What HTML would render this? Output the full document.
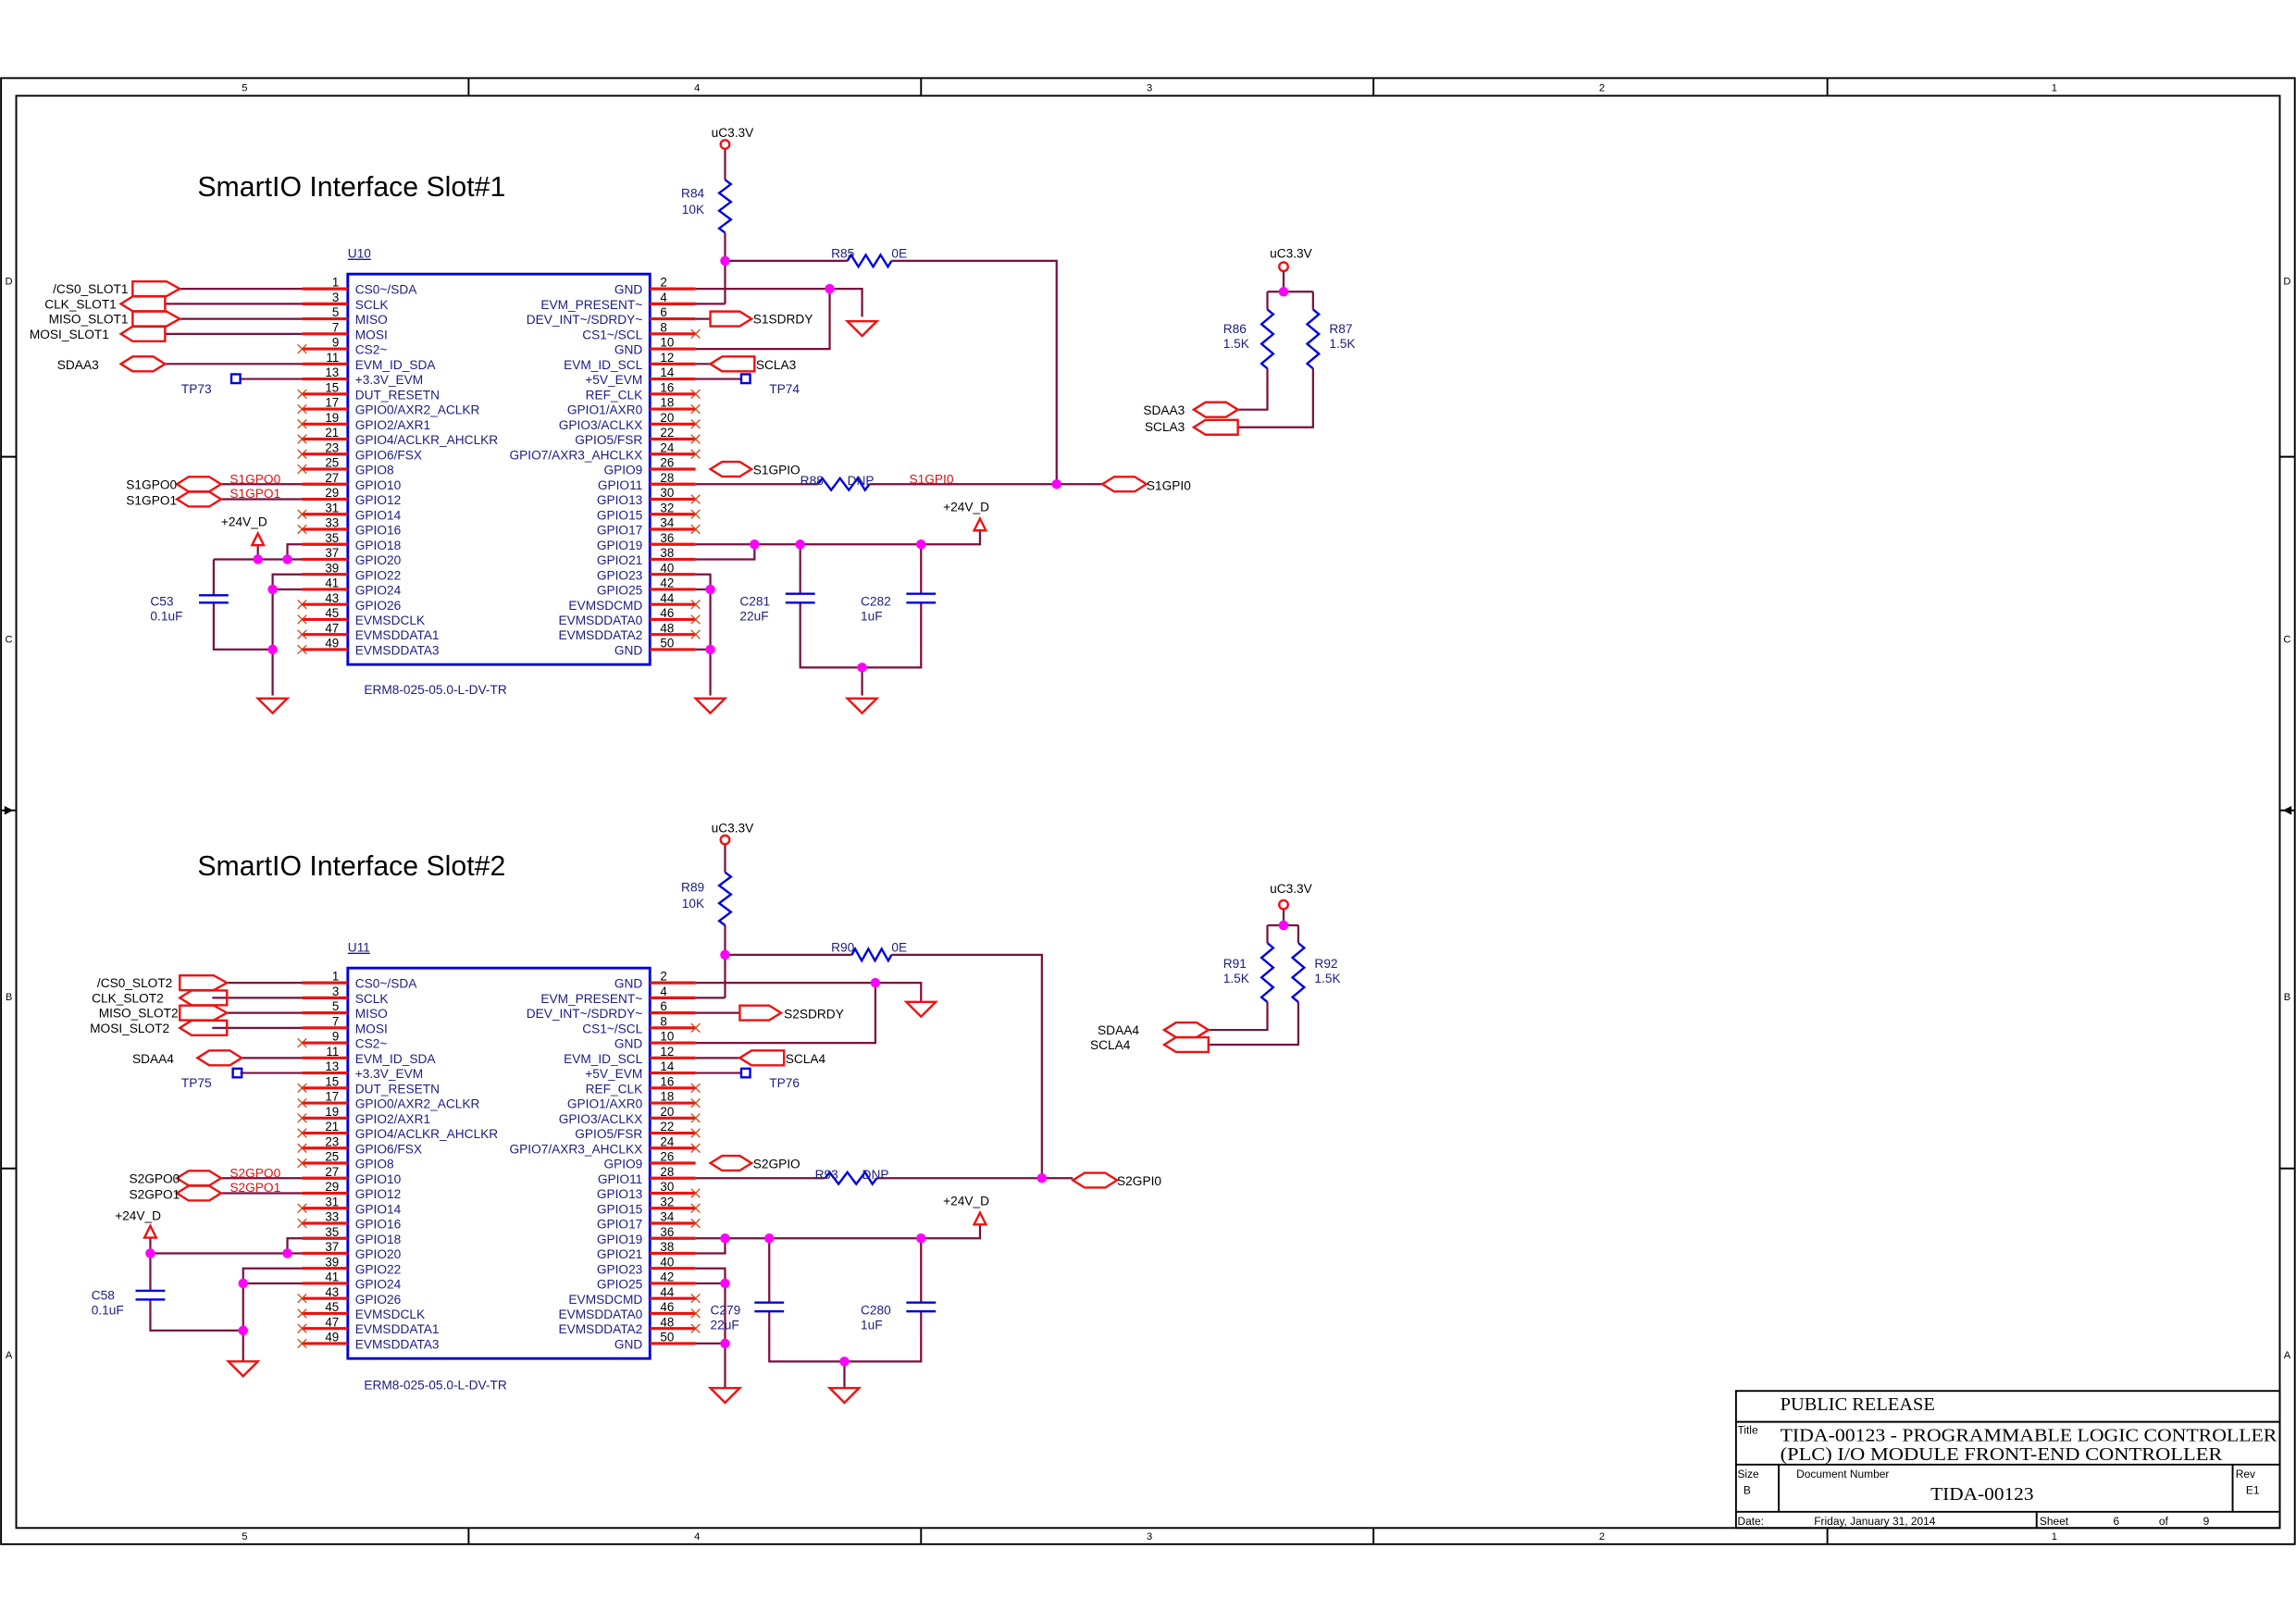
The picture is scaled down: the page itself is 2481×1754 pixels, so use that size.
<!DOCTYPE html>
<html><head><meta charset="utf-8"><style>
html,body{margin:0;padding:0;background:#fff}
svg{display:block}
.n{font:8.6px "Liberation Sans",sans-serif;fill:#1c1c80}
.p{font:8.4px "Liberation Sans",sans-serif;fill:#000}
.l{font:8.6px "Liberation Sans",sans-serif;fill:#000}
.b{font:8.6px "Liberation Sans",sans-serif;fill:#1c1c80}
.r{font:8.6px "Liberation Sans",sans-serif;fill:#e01010}
.w{fill:none;stroke:#7a0f3f;stroke-width:1.4}
.pin{fill:none;stroke:#ee1111;stroke-width:2}
.x{fill:none;stroke:#d04010;stroke-width:0.8}
.res{fill:none;stroke:#0000dd;stroke-width:1.5}
.prt{fill:none;stroke:#ee1111;stroke-width:1.5}
.j{fill:#ff00ff}
.fr{fill:none;stroke:#000;stroke-width:1.2}
.t{font:9px "Liberation Sans",sans-serif;fill:#000}
.s{font:12.5px "Liberation Serif",serif;fill:#000}
</style></head><body>
<svg width="2481" height="1754" viewBox="0 0 1558 1101.5" preserveAspectRatio="none" xmlns="http://www.w3.org/2000/svg">
<rect width="1558" height="1101.5" fill="#fff"/>
<!-- frame -->
<rect class="fr" x="0.7" y="53" width="1556.5" height="995"/>
<rect class="fr" x="11" y="65" width="1536" height="972"/>
<path class="fr" d="M318 53V65M625 53V65M932 53V65M1240 53V65M318 1037V1048M625 1037V1048M932 1037V1048M1240 1037V1048M1 310H11M1 793H11M1547 310H1557M1547 793H1557M1 550H11M1547 550H1557"/>
<path d="M3 547l6 3l-6 3z M1555 547l-6 3l6 3z" fill="#000"/>
<g class="t" style="font-size:7px" text-anchor="middle">
<text x="166" y="62">5</text><text x="473" y="62">4</text><text x="780" y="62">3</text><text x="1087" y="62">2</text><text x="1394" y="62">1</text>
<text x="166" y="1045">5</text><text x="473" y="1045">4</text><text x="780" y="1045">3</text><text x="1087" y="1045">2</text><text x="1394" y="1045">1</text>
<text x="6" y="193">D</text><text x="6" y="436">C</text><text x="6" y="679">B</text><text x="6" y="922">A</text>
<text x="1552" y="193">D</text><text x="1552" y="436">C</text><text x="1552" y="679">B</text><text x="1552" y="922">A</text>
</g>

<!-- titles -->
<text x="134" y="133" style="font:19px 'Liberation Sans',sans-serif">SmartIO Interface Slot#1</text>
<text x="134" y="594" style="font:19px 'Liberation Sans',sans-serif">SmartIO Interface Slot#2</text>

<!-- ===== SLOT 1 BODY ===== -->
<g>
<text class="b" x="236" y="175" text-decoration="underline">U10</text>
<rect x="236" y="186" width="205" height="265" fill="none" stroke="#0000dd" stroke-width="1.8"/>
<path class="pin" d="M205 196h31M205 206.2h31M205 216.4h31M205 226.6h31M205 236.8h31M205 247h31M205 257.2h31M205 267.4h31M205 277.6h31M205 287.8h31M205 298h31M205 308.2h31M205 318.4h31M205 328.6h31M205 338.8h31M205 349h31M205 359.2h31M205 369.4h31M205 379.6h31M205 389.8h31M205 400h31M205 410.2h31M205 420.4h31M205 430.6h31M205 440.8h31
M441 196h31M441 206.2h31M441 216.4h31M441 226.6h31M441 236.8h31M441 247h31M441 257.2h31M441 267.4h31M441 277.6h31M441 287.8h31M441 298h31M441 308.2h31M441 318.4h31M441 328.6h31M441 338.8h31M441 349h31M441 359.2h31M441 369.4h31M441 379.6h31M441 389.8h31M441 400h31M441 410.2h31M441 420.4h31M441 430.6h31M441 440.8h31"/>
<path class="x" d="M202 233.8l6 6m0-6l-6 6M202 264.4l6 6m0-6l-6 6M202 274.6l6 6m0-6l-6 6M202 284.8l6 6m0-6l-6 6M202 295l6 6m0-6l-6 6M202 305.2l6 6m0-6l-6 6M202 315.4l6 6m0-6l-6 6M202 346l6 6m0-6l-6 6M202 356.2l6 6m0-6l-6 6M202 407.2l6 6m0-6l-6 6M202 417.4l6 6m0-6l-6 6M202 427.6l6 6m0-6l-6 6M202 437.8l6 6m0-6l-6 6
M469 223.6l6 6m0-6l-6 6M469 264.4l6 6m0-6l-6 6M469 274.6l6 6m0-6l-6 6M469 284.8l6 6m0-6l-6 6M469 295l6 6m0-6l-6 6M469 305.2l6 6m0-6l-6 6M469 335.8l6 6m0-6l-6 6M469 346l6 6m0-6l-6 6M469 356.2l6 6m0-6l-6 6M469 407.2l6 6m0-6l-6 6M469 417.4l6 6m0-6l-6 6M469 427.6l6 6m0-6l-6 6"/>
<text class="n"><tspan x="241" y="199.5">CS0~/SDA</tspan><tspan x="241" y="209.7">SCLK</tspan><tspan x="241" y="219.9">MISO</tspan><tspan x="241" y="230.1">MOSI</tspan><tspan x="241" y="240.3">CS2~</tspan><tspan x="241" y="250.5">EVM_ID_SDA</tspan><tspan x="241" y="260.7">+3.3V_EVM</tspan><tspan x="241" y="270.9">DUT_RESETN</tspan><tspan x="241" y="281.1">GPIO0/AXR2_ACLKR</tspan><tspan x="241" y="291.3">GPIO2/AXR1</tspan><tspan x="241" y="301.5">GPIO4/ACLKR_AHCLKR</tspan><tspan x="241" y="311.7">GPIO6/FSX</tspan><tspan x="241" y="321.9">GPIO8</tspan><tspan x="241" y="332.1">GPIO10</tspan><tspan x="241" y="342.3">GPIO12</tspan><tspan x="241" y="352.5">GPIO14</tspan><tspan x="241" y="362.7">GPIO16</tspan><tspan x="241" y="372.9">GPIO18</tspan><tspan x="241" y="383.1">GPIO20</tspan><tspan x="241" y="393.3">GPIO22</tspan><tspan x="241" y="403.5">GPIO24</tspan><tspan x="241" y="413.7">GPIO26</tspan><tspan x="241" y="423.9">EVMSDCLK</tspan><tspan x="241" y="434.1">EVMSDDATA1</tspan><tspan x="241" y="444.3">EVMSDDATA3</tspan></text>
<text class="n" text-anchor="end"><tspan x="436" y="199.5">GND</tspan><tspan x="436" y="209.7">EVM_PRESENT~</tspan><tspan x="436" y="219.9">DEV_INT~/SDRDY~</tspan><tspan x="436" y="230.1">CS1~/SCL</tspan><tspan x="436" y="240.3">GND</tspan><tspan x="436" y="250.5">EVM_ID_SCL</tspan><tspan x="436" y="260.7">+5V_EVM</tspan><tspan x="436" y="270.9">REF_CLK</tspan><tspan x="436" y="281.1">GPIO1/AXR0</tspan><tspan x="436" y="291.3">GPIO3/ACLKX</tspan><tspan x="436" y="301.5">GPIO5/FSR</tspan><tspan x="436" y="311.7">GPIO7/AXR3_AHCLKX</tspan><tspan x="436" y="321.9">GPIO9</tspan><tspan x="436" y="332.1">GPIO11</tspan><tspan x="436" y="342.3">GPIO13</tspan><tspan x="436" y="352.5">GPIO15</tspan><tspan x="436" y="362.7">GPIO17</tspan><tspan x="436" y="372.9">GPIO19</tspan><tspan x="436" y="383.1">GPIO21</tspan><tspan x="436" y="393.3">GPIO23</tspan><tspan x="436" y="403.5">GPIO25</tspan><tspan x="436" y="413.7">EVMSDCMD</tspan><tspan x="436" y="423.9">EVMSDDATA0</tspan><tspan x="436" y="434.1">EVMSDDATA2</tspan><tspan x="436" y="444.3">GND</tspan></text>
<text class="p" text-anchor="end"><tspan x="230" y="194.5">1</tspan><tspan x="230" y="204.7">3</tspan><tspan x="230" y="214.9">5</tspan><tspan x="230" y="225.1">7</tspan><tspan x="230" y="235.3">9</tspan><tspan x="230" y="245.5">11</tspan><tspan x="230" y="255.7">13</tspan><tspan x="230" y="265.9">15</tspan><tspan x="230" y="276.1">17</tspan><tspan x="230" y="286.3">19</tspan><tspan x="230" y="296.5">21</tspan><tspan x="230" y="306.7">23</tspan><tspan x="230" y="316.9">25</tspan><tspan x="230" y="327.1">27</tspan><tspan x="230" y="337.3">29</tspan><tspan x="230" y="347.5">31</tspan><tspan x="230" y="357.7">33</tspan><tspan x="230" y="367.9">35</tspan><tspan x="230" y="378.1">37</tspan><tspan x="230" y="388.3">39</tspan><tspan x="230" y="398.5">41</tspan><tspan x="230" y="408.7">43</tspan><tspan x="230" y="418.9">45</tspan><tspan x="230" y="429.1">47</tspan><tspan x="230" y="439.3">49</tspan></text>
<text class="p"><tspan x="448" y="194.5">2</tspan><tspan x="448" y="204.7">4</tspan><tspan x="448" y="214.9">6</tspan><tspan x="448" y="225.1">8</tspan><tspan x="448" y="235.3">10</tspan><tspan x="448" y="245.5">12</tspan><tspan x="448" y="255.7">14</tspan><tspan x="448" y="265.9">16</tspan><tspan x="448" y="276.1">18</tspan><tspan x="448" y="286.3">20</tspan><tspan x="448" y="296.5">22</tspan><tspan x="448" y="306.7">24</tspan><tspan x="448" y="316.9">26</tspan><tspan x="448" y="327.1">28</tspan><tspan x="448" y="337.3">30</tspan><tspan x="448" y="347.5">32</tspan><tspan x="448" y="357.7">34</tspan><tspan x="448" y="367.9">36</tspan><tspan x="448" y="378.1">38</tspan><tspan x="448" y="388.3">40</tspan><tspan x="448" y="398.5">42</tspan><tspan x="448" y="408.7">44</tspan><tspan x="448" y="418.9">46</tspan><tspan x="448" y="429.1">48</tspan><tspan x="448" y="439.3">50</tspan></text>
<text class="b" x="247" y="471">ERM8-025-05.0-L-DV-TR</text>
</g>

<!-- ===== SLOT 2 BODY ===== -->
<g transform="translate(0,471)">
<text class="b" x="236" y="175" text-decoration="underline">U11</text>
<rect x="236" y="186" width="205" height="265" fill="none" stroke="#0000dd" stroke-width="1.8"/>
<path class="pin" d="M205 196h31M205 206.2h31M205 216.4h31M205 226.6h31M205 236.8h31M205 247h31M205 257.2h31M205 267.4h31M205 277.6h31M205 287.8h31M205 298h31M205 308.2h31M205 318.4h31M205 328.6h31M205 338.8h31M205 349h31M205 359.2h31M205 369.4h31M205 379.6h31M205 389.8h31M205 400h31M205 410.2h31M205 420.4h31M205 430.6h31M205 440.8h31
M441 196h31M441 206.2h31M441 216.4h31M441 226.6h31M441 236.8h31M441 247h31M441 257.2h31M441 267.4h31M441 277.6h31M441 287.8h31M441 298h31M441 308.2h31M441 318.4h31M441 328.6h31M441 338.8h31M441 349h31M441 359.2h31M441 369.4h31M441 379.6h31M441 389.8h31M441 400h31M441 410.2h31M441 420.4h31M441 430.6h31M441 440.8h31"/>
<path class="x" d="M202 233.8l6 6m0-6l-6 6M202 264.4l6 6m0-6l-6 6M202 274.6l6 6m0-6l-6 6M202 284.8l6 6m0-6l-6 6M202 295l6 6m0-6l-6 6M202 305.2l6 6m0-6l-6 6M202 315.4l6 6m0-6l-6 6M202 346l6 6m0-6l-6 6M202 356.2l6 6m0-6l-6 6M202 407.2l6 6m0-6l-6 6M202 417.4l6 6m0-6l-6 6M202 427.6l6 6m0-6l-6 6M202 437.8l6 6m0-6l-6 6
M469 223.6l6 6m0-6l-6 6M469 264.4l6 6m0-6l-6 6M469 274.6l6 6m0-6l-6 6M469 284.8l6 6m0-6l-6 6M469 295l6 6m0-6l-6 6M469 305.2l6 6m0-6l-6 6M469 335.8l6 6m0-6l-6 6M469 346l6 6m0-6l-6 6M469 356.2l6 6m0-6l-6 6M469 407.2l6 6m0-6l-6 6M469 417.4l6 6m0-6l-6 6M469 427.6l6 6m0-6l-6 6"/>
<text class="n"><tspan x="241" y="199.5">CS0~/SDA</tspan><tspan x="241" y="209.7">SCLK</tspan><tspan x="241" y="219.9">MISO</tspan><tspan x="241" y="230.1">MOSI</tspan><tspan x="241" y="240.3">CS2~</tspan><tspan x="241" y="250.5">EVM_ID_SDA</tspan><tspan x="241" y="260.7">+3.3V_EVM</tspan><tspan x="241" y="270.9">DUT_RESETN</tspan><tspan x="241" y="281.1">GPIO0/AXR2_ACLKR</tspan><tspan x="241" y="291.3">GPIO2/AXR1</tspan><tspan x="241" y="301.5">GPIO4/ACLKR_AHCLKR</tspan><tspan x="241" y="311.7">GPIO6/FSX</tspan><tspan x="241" y="321.9">GPIO8</tspan><tspan x="241" y="332.1">GPIO10</tspan><tspan x="241" y="342.3">GPIO12</tspan><tspan x="241" y="352.5">GPIO14</tspan><tspan x="241" y="362.7">GPIO16</tspan><tspan x="241" y="372.9">GPIO18</tspan><tspan x="241" y="383.1">GPIO20</tspan><tspan x="241" y="393.3">GPIO22</tspan><tspan x="241" y="403.5">GPIO24</tspan><tspan x="241" y="413.7">GPIO26</tspan><tspan x="241" y="423.9">EVMSDCLK</tspan><tspan x="241" y="434.1">EVMSDDATA1</tspan><tspan x="241" y="444.3">EVMSDDATA3</tspan></text>
<text class="n" text-anchor="end"><tspan x="436" y="199.5">GND</tspan><tspan x="436" y="209.7">EVM_PRESENT~</tspan><tspan x="436" y="219.9">DEV_INT~/SDRDY~</tspan><tspan x="436" y="230.1">CS1~/SCL</tspan><tspan x="436" y="240.3">GND</tspan><tspan x="436" y="250.5">EVM_ID_SCL</tspan><tspan x="436" y="260.7">+5V_EVM</tspan><tspan x="436" y="270.9">REF_CLK</tspan><tspan x="436" y="281.1">GPIO1/AXR0</tspan><tspan x="436" y="291.3">GPIO3/ACLKX</tspan><tspan x="436" y="301.5">GPIO5/FSR</tspan><tspan x="436" y="311.7">GPIO7/AXR3_AHCLKX</tspan><tspan x="436" y="321.9">GPIO9</tspan><tspan x="436" y="332.1">GPIO11</tspan><tspan x="436" y="342.3">GPIO13</tspan><tspan x="436" y="352.5">GPIO15</tspan><tspan x="436" y="362.7">GPIO17</tspan><tspan x="436" y="372.9">GPIO19</tspan><tspan x="436" y="383.1">GPIO21</tspan><tspan x="436" y="393.3">GPIO23</tspan><tspan x="436" y="403.5">GPIO25</tspan><tspan x="436" y="413.7">EVMSDCMD</tspan><tspan x="436" y="423.9">EVMSDDATA0</tspan><tspan x="436" y="434.1">EVMSDDATA2</tspan><tspan x="436" y="444.3">GND</tspan></text>
<text class="p" text-anchor="end"><tspan x="230" y="194.5">1</tspan><tspan x="230" y="204.7">3</tspan><tspan x="230" y="214.9">5</tspan><tspan x="230" y="225.1">7</tspan><tspan x="230" y="235.3">9</tspan><tspan x="230" y="245.5">11</tspan><tspan x="230" y="255.7">13</tspan><tspan x="230" y="265.9">15</tspan><tspan x="230" y="276.1">17</tspan><tspan x="230" y="286.3">19</tspan><tspan x="230" y="296.5">21</tspan><tspan x="230" y="306.7">23</tspan><tspan x="230" y="316.9">25</tspan><tspan x="230" y="327.1">27</tspan><tspan x="230" y="337.3">29</tspan><tspan x="230" y="347.5">31</tspan><tspan x="230" y="357.7">33</tspan><tspan x="230" y="367.9">35</tspan><tspan x="230" y="378.1">37</tspan><tspan x="230" y="388.3">39</tspan><tspan x="230" y="398.5">41</tspan><tspan x="230" y="408.7">43</tspan><tspan x="230" y="418.9">45</tspan><tspan x="230" y="429.1">47</tspan><tspan x="230" y="439.3">49</tspan></text>
<text class="p"><tspan x="448" y="194.5">2</tspan><tspan x="448" y="204.7">4</tspan><tspan x="448" y="214.9">6</tspan><tspan x="448" y="225.1">8</tspan><tspan x="448" y="235.3">10</tspan><tspan x="448" y="245.5">12</tspan><tspan x="448" y="255.7">14</tspan><tspan x="448" y="265.9">16</tspan><tspan x="448" y="276.1">18</tspan><tspan x="448" y="286.3">20</tspan><tspan x="448" y="296.5">22</tspan><tspan x="448" y="306.7">24</tspan><tspan x="448" y="316.9">26</tspan><tspan x="448" y="327.1">28</tspan><tspan x="448" y="337.3">30</tspan><tspan x="448" y="347.5">32</tspan><tspan x="448" y="357.7">34</tspan><tspan x="448" y="367.9">36</tspan><tspan x="448" y="378.1">38</tspan><tspan x="448" y="388.3">40</tspan><tspan x="448" y="398.5">42</tspan><tspan x="448" y="408.7">44</tspan><tspan x="448" y="418.9">46</tspan><tspan x="448" y="429.1">48</tspan><tspan x="448" y="439.3">50</tspan></text>
<text class="b" x="247" y="472">ERM8-025-05.0-L-DV-TR</text>
</g>

<!-- ===== SLOT 1 WIRING ===== -->
<path class="w" d="M122 196H205M112 206.2H205M122 216.4H205M112 226.6H205M112 247H205M163 257.2H205M150 328.6H205M150 338.8H205
M175 370V379.6M195 379.6V369.4H205M145 379.6H205M145 379.6V404M145 409V440.8H185M205 389.8H185V472M185 400H205
M472 206.2H492M492 101V122M492 158V206.2M492 177H575M605 177H717V328.6M472 196H585V215M563 196V236.8H472
M472 216.4H482M472 247H482M472 257.2H503M472 328.6H555M590 328.6H748
M472 369.4H665V360M472 379.6H512V369.4M543 369.4V403M543 409V453H625V409M625 369.4V403M585 453V472
M472 389.8H482V472M472 400H482M472 440.8H482
M871 184V198M860 198H891M860 198V210M860 250V278H840M891 198V210M891 250V290H840"/>
<path class="res" d="M492 122l4 3l-8 6l8 6l-8 6l8 6l-8 6l4 3M575 177l2.5 -4l5 8l5 -8l5 8l5 -8l5 8l2.5 -4M555 328.6l3 -4l6 8l6 -8l6 8l6 -8l5 8l3 -4
M860 210l4 3.3l-8 6.7l8 6.7l-8 6.7l8 6.7l-8 6.7l4 3.3M891 210l4 3.3l-8 6.7l8 6.7l-8 6.7l8 6.7l-8 6.7l4 3.3
M135 404h20M135 409h20M533 403h20M533 409h20M615 403h20M615 409h20"/>
<path class="res" d="M157 254h6v6h-6zM503 254h6v6h-6z" stroke-width="1.3"/>
<g class="prt">
<path d="M90 191H113L122 196L113 201H90Z"/>
<path d="M82 206.2L90 201.2H112V211.2H90Z"/>
<path d="M90 211.4H113L122 216.4L113 221.4H90Z"/>
<path d="M82 226.6L90 221.6H112V231.6H90Z"/>
<path d="M82 247L90 242H104L112 247L104 252H90Z"/>
<path d="M120 328.6L128 323.6H142L150 328.6L142 333.6H128Z"/>
<path d="M120 338.8L128 333.8H142L150 338.8L142 343.8H128Z"/>
<path d="M482 211.4H502L510 216.4L502 221.4H482Z"/>
<path d="M482 247L490 242H512V252H490Z"/>
<path d="M482 318.4L490 313.4H502L510 318.4L502 323.4H490Z"/>
<path d="M748 328.6L756 323.6H770L778 328.6L770 333.6H756Z"/>
<path d="M810 278L818 273H832L840 278L832 283H818Z"/>
<path d="M810 290L818 285H840V295H818Z"/>
<path d="M171 370L175 362L179 370Z M661 360L665 352L669 360Z"/>
<path d="M175 474H195L185 484Z M575 474H595L585 484Z M472 474H492L482 484Z M575 218H595L585 228Z"/>
<circle cx="492" cy="98" r="3"/><circle cx="871" cy="181" r="3"/>
</g>
<g class="j">
<circle cx="175" cy="379.6" r="3.3"/><circle cx="195" cy="379.6" r="3.3"/><circle cx="185" cy="400" r="3.3"/><circle cx="185" cy="440.8" r="3.3"/>
<circle cx="492" cy="177" r="3.3"/><circle cx="563" cy="196" r="3.3"/><circle cx="717" cy="328.6" r="3.3"/>
<circle cx="512" cy="369.4" r="3.3"/><circle cx="543" cy="369.4" r="3.3"/><circle cx="625" cy="369.4" r="3.3"/><circle cx="585" cy="453" r="3.3"/>
<circle cx="482" cy="400" r="3.3"/><circle cx="482" cy="440.8" r="3.3"/><circle cx="871" cy="198" r="3.3"/>
</g>
<g class="l">
<text x="87" y="199" text-anchor="end">/CS0_SLOT1</text>
<text x="79" y="209.5" text-anchor="end">CLK_SLOT1</text>
<text x="87" y="219.5" text-anchor="end">MISO_SLOT1</text>
<text x="74" y="230" text-anchor="end">MOSI_SLOT1</text>
<text x="67" y="250.5" text-anchor="end">SDAA3</text>
<text x="120" y="332" text-anchor="end">S1GPO0</text>
<text x="120" y="342.5" text-anchor="end">S1GPO1</text>
<text x="150" y="357">+24V_D</text>
<text x="497" y="93" text-anchor="middle">uC3.3V</text>
<text x="511" y="219.5">S1SDRDY</text>
<text x="513" y="250.5">SCLA3</text>
<text x="511" y="322">S1GPIO</text>
<text x="778" y="332.5">S1GPI0</text>
<text x="640" y="347">+24V_D</text>
<text x="876" y="175" text-anchor="middle">uC3.3V</text>
<text x="804" y="281.5" text-anchor="end">SDAA3</text>
<text x="804" y="292.5" text-anchor="end">SCLA3</text>
</g>
<g class="b">
<text x="123" y="267">TP73</text><text x="522" y="267">TP74</text>
<text x="478" y="134" text-anchor="end">R84</text><text x="478" y="145" text-anchor="end">10K</text>
<text x="564" y="175">R85</text><text x="605" y="175">0E</text>
<text x="543" y="329">R88</text><text x="575" y="329">DNP</text>
<text x="102" y="411">C53</text><text x="102" y="421">0.1uF</text>
<text x="502" y="411">C281</text><text x="502" y="421">22uF</text>
<text x="584" y="411">C282</text><text x="584" y="421">1uF</text>
<text x="830" y="226">R86</text><text x="830" y="236">1.5K</text>
<text x="902" y="226">R87</text><text x="902" y="236">1.5K</text>
</g>
<g class="r"><text x="156" y="328">S1GPO0</text><text x="156" y="338">S1GPO1</text><text x="617" y="328">S1GPI0</text></g>

<!-- ===== SLOT 2 WIRING ===== -->
<path class="w" d="M154 667H205M144 677.2H205M154 687.4H205M144 697.6H205M164 718H205M163 728.2H205M150 799.6H205M150 809.8H205
M102 840V850.6H205M195 850.6V840.4H205M102 850.6V876M102 882V903H165M205 860.8H165V924M165 871H205
M472 677.2H492M492 573V592M492 628V677.2M492 648H578M605 648H707V799.6M472 667H625V680M594 667V707.8H472
M472 687.4H502M472 718H502M472 728.2H503M472 799.6H560M595 799.6H728
M472 840.4H665V831M472 850.6H492V840.4M522 840.4V884M522 890V924H625V890M625 840.4V884M573 924V942
M472 860.8H492V942M472 871H492M472 911.8H492
M871 617V628M860 628H881M860 628V640M860 680V699H820M881 628V640M881 680V709H820"/>
<path class="res" d="M492 592l4 3l-8 6l8 6l-8 6l8 6l-8 6l4 3M578 648l2.25 -4l4.5 8l4.5 -8l4.5 8l4.5 -8l4.5 8l2.25 -4M560 799.6l3 -4l6 8l6 -8l6 8l6 -8l5 8l3 -4
M860 640l4 3.3l-8 6.7l8 6.7l-8 6.7l8 6.7l-8 6.7l4 3.3M881 640l4 3.3l-8 6.7l8 6.7l-8 6.7l8 6.7l-8 6.7l4 3.3
M92 876h20M92 882h20M512 884h20M512 890h20M615 884h20M615 890h20"/>
<path class="res" d="M158 725.2h6v6h-6zM503 725.2h6v6h-6z" stroke-width="1.3"/>
<g class="prt">
<path d="M122 662H145L154 667L145 672H122Z"/>
<path d="M122 677.2L130 672.2H154V682.2H130Z"/>
<path d="M122 682.4H145L154 687.4L145 692.4H122Z"/>
<path d="M122 697.6L130 692.6H154V702.6H130Z"/>
<path d="M134 718L142 713H156L164 718L156 723H142Z"/>
<path d="M120 799.6L128 794.6H142L150 799.6L142 804.6H128Z"/>
<path d="M120 809.8L128 804.8H142L150 809.8L142 814.8H128Z"/>
<path d="M502 682.4H522L530 687.4L522 692.4H502Z"/>
<path d="M502 718L510 713H532V723H510Z"/>
<path d="M482 789.4L490 784.4H502L510 789.4L502 794.4H490Z"/>
<path d="M728 801L736 796H750L758 801L750 806H736Z"/>
<path d="M790 699L798 694H812L820 699L812 704H798Z"/>
<path d="M790 709L798 704H820V714H798Z"/>
<path d="M98 840L102 832L106 840Z M661 831L665 823L669 831Z"/>
<path d="M155 924H175L165 934Z M563 942H583L573 952Z M482 942H502L492 952Z M615 680H635L625 690Z"/>
<circle cx="492" cy="570" r="3"/><circle cx="871" cy="614" r="3"/>
</g>
<g class="j">
<circle cx="102" cy="850.6" r="3.3"/><circle cx="195" cy="850.6" r="3.3"/><circle cx="165" cy="871" r="3.3"/><circle cx="165" cy="903" r="3.3"/>
<circle cx="492" cy="648" r="3.3"/><circle cx="594" cy="667" r="3.3"/><circle cx="707" cy="799.6" r="3.3"/>
<circle cx="492" cy="840.4" r="3.3"/><circle cx="522" cy="840.4" r="3.3"/><circle cx="625" cy="840.4" r="3.3"/><circle cx="573" cy="924" r="3.3"/>
<circle cx="492" cy="871" r="3.3"/><circle cx="492" cy="911.8" r="3.3"/><circle cx="871" cy="628" r="3.3"/>
</g>
<g class="l">
<text x="117" y="670" text-anchor="end">/CS0_SLOT2</text>
<text x="111" y="680.5" text-anchor="end">CLK_SLOT2</text>
<text x="121" y="690.5" text-anchor="end">MISO_SLOT2</text>
<text x="115" y="701" text-anchor="end">MOSI_SLOT2</text>
<text x="118" y="721.5" text-anchor="end">SDAA4</text>
<text x="122" y="803" text-anchor="end">S2GPO0</text>
<text x="122" y="813.5" text-anchor="end">S2GPO1</text>
<text x="78" y="828">+24V_D</text>
<text x="497" y="565" text-anchor="middle">uC3.3V</text>
<text x="532" y="691">S2SDRDY</text>
<text x="533" y="721.5">SCLA4</text>
<text x="511" y="793">S2GPIO</text>
<text x="758" y="804.5">S2GPI0</text>
<text x="640" y="818">+24V_D</text>
<text x="876" y="606" text-anchor="middle">uC3.3V</text>
<text x="773" y="702" text-anchor="end">SDAA4</text>
<text x="767" y="712" text-anchor="end">SCLA4</text>
</g>
<g class="b">
<text x="123" y="738">TP75</text><text x="522" y="738">TP76</text>
<text x="478" y="605" text-anchor="end">R89</text><text x="478" y="616" text-anchor="end">10K</text>
<text x="564" y="646">R90</text><text x="605" y="646">0E</text>
<text x="553" y="800">R93</text><text x="585" y="800">DNP</text>
<text x="62" y="882">C58</text><text x="62" y="892">0.1uF</text>
<text x="482" y="892">C279</text><text x="482" y="902">22uF</text>
<text x="584" y="892">C280</text><text x="584" y="902">1uF</text>
<text x="830" y="657">R91</text><text x="830" y="667">1.5K</text>
<text x="892" y="657">R92</text><text x="892" y="667">1.5K</text>
</g>
<g class="r"><text x="156" y="799">S2GPO0</text><text x="156" y="809">S2GPO1</text></g>

<!-- ===== TITLE BLOCK ===== -->
<rect class="fr" x="1178" y="944" width="369" height="93"/>
<path class="fr" d="M1178 965H1547M1178 994H1547M1178 1026H1547M1207 994V1026M1515 994V1026M1382 1026V1037"/>
<text class="s" x="1208" y="957" textLength="105" lengthAdjust="spacingAndGlyphs">PUBLIC RELEASE</text>
<text class="t" x="1179" y="973" style="font-size:7.5px">Title</text>
<text class="s" x="1208" y="978" textLength="337" lengthAdjust="spacingAndGlyphs">TIDA-00123 - PROGRAMMABLE LOGIC CONTROLLER</text>
<text class="s" x="1208" y="991" textLength="300" lengthAdjust="spacingAndGlyphs">(PLC) I/O MODULE FRONT-END CONTROLLER</text>
<text class="t" x="1179" y="1003" style="font-size:7.5px">Size</text>
<text class="t" x="1183" y="1014" style="font-size:7.5px">B</text>
<text class="t" x="1219" y="1003" style="font-size:7.5px">Document Number</text>
<text class="s" x="1310" y="1018" textLength="70" lengthAdjust="spacingAndGlyphs">TIDA-00123</text>
<text class="t" x="1517" y="1003" style="font-size:7.5px">Rev</text>
<text class="t" x="1524" y="1014" style="font-size:7.5px">E1</text>
<text class="t" x="1179" y="1035" style="font-size:7.5px">Date:</text>
<text class="t" x="1231" y="1035" style="font-size:7.5px">Friday, January 31, 2014</text>
<text class="t" x="1384" y="1035" style="font-size:7.5px">Sheet</text>
<text class="t" x="1434" y="1035" style="font-size:7.5px">6</text>
<text class="t" x="1465" y="1035" style="font-size:7.5px">of</text>
<text class="t" x="1495" y="1035" style="font-size:7.5px">9</text>
</svg>
</body></html>
